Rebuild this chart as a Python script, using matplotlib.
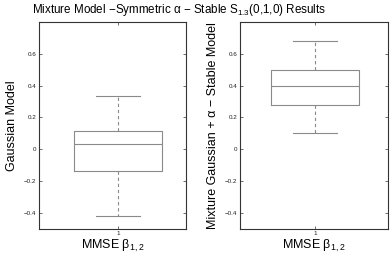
import matplotlib
matplotlib.use("Agg")
import matplotlib.pyplot as plt

plt.rcParams['font.family'] = ['Liberation Sans', 'DejaVu Sans']
plt.rcParams['mathtext.fontset'] = 'custom'
plt.rcParams['mathtext.rm'] = 'Liberation Sans'
plt.rcParams['mathtext.it'] = 'Liberation Sans'
plt.rcParams['mathtext.bf'] = 'Liberation Sans'

# data: box statistics
panels = ["Gaussian Model", "Mixture Gaussian + \u03b1 \u2212 Stable Model"]
whisker_low = [-0.42, 0.102]
q1 = [-0.138, 0.281]
median = [0.035, 0.398]
q3 = [0.117, 0.498]
whisker_high = [0.336, 0.683]
x_label = "MMSE \u03b2$_{1,2}$"
y_ticks = [-0.4, -0.2, 0, 0.2, 0.4, 0.6]
y_tick_labels = ["\u22120.4", "\u22120.2", "0", "0.2", "0.4", "0.6"]
title = "Mixture Model \u2212Symmetric \u03b1 \u2212 Stable S$_{1.3}$(0,1,0) Results"

fig = plt.figure(figsize=(3.92, 2.56), dpi=100)
positions = [[0.0995, 0.1055, 0.375, 0.809], [0.612, 0.1055, 0.378, 0.809]]
xlims = [(0.463, 1.463), (0.493, 1.493)]
gray = '#8a8a8a'
for i in range(2):
    ax = fig.add_axes(positions[i])
    stats = [dict(med=median[i], q1=q1[i], q3=q3[i], whislo=whisker_low[i],
                  whishi=whisker_high[i], fliers=[], label='1')]
    ax.bxp(stats, positions=[1], widths=0.6, showfliers=False,
           boxprops=dict(color=gray, linewidth=0.8),
           medianprops=dict(color=gray, linewidth=0.8),
           whiskerprops=dict(color=gray, linewidth=0.8, linestyle=(0, (3, 2.5))),
           capprops=dict(color=gray, linewidth=0.8), capwidths=0.3)
    ax.set_xlim(*xlims[i])
    ax.set_ylim(-0.5, 0.8)
    ax.set_yticks(y_ticks)
    ax.set_yticklabels(y_tick_labels)
    ax.set_xticks([1])
    ax.set_xticklabels(['1'])
    ax.tick_params(direction='in', length=2.5, width=0.5, labelsize=4.5,
                   top=True, right=True, colors='#333333', labelcolor='#222222', pad=2)
    ax.tick_params(axis='x', pad=1.5)
    for s in ax.spines.values():
        s.set_linewidth(0.8)
        s.set_color('#333333')
    ax.set_ylabel(panels[i], fontsize=9, labelpad=4)
    ax.set_xlabel(x_label, fontsize=9, labelpad=1)

fig.text(0.457, 0.962, title, ha='center', va='center', fontsize=8.4)
fig.savefig("out.png", dpi=100)
